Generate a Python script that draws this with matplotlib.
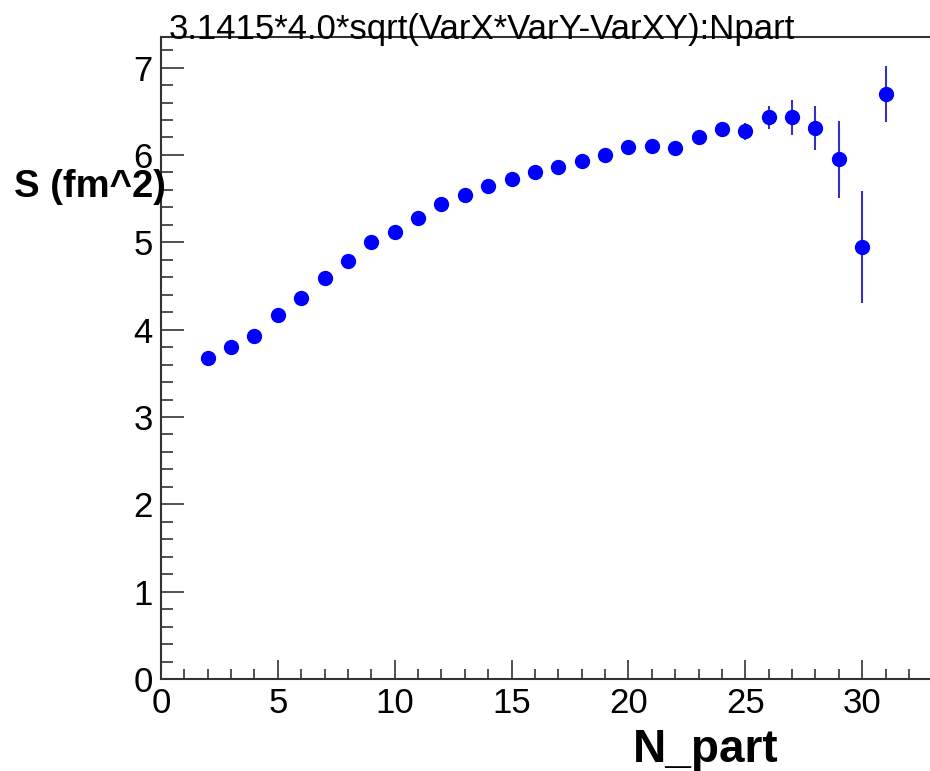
import matplotlib.pyplot as plt
from matplotlib.ticker import MultipleLocator

# Data
npart = [2, 3, 4, 5, 6, 7, 8, 9, 10, 11, 12, 13, 14, 15, 16,
         17, 18, 19, 20, 21, 22, 23, 24, 25, 26, 27, 28, 29, 30, 31]
area = [3.68, 3.80, 3.93, 4.17, 4.36, 4.59, 4.79, 5.00, 5.12, 5.28,
        5.44, 5.54, 5.65, 5.73, 5.80, 5.86, 5.93, 6.00, 6.09, 6.10,
        6.08, 6.20, 6.30, 6.27, 6.43, 6.43, 6.31, 5.95, 4.95, 6.70]
area_err = [0.01, 0.01, 0.01, 0.01, 0.01, 0.01, 0.01, 0.02, 0.02, 0.02,
            0.02, 0.02, 0.02, 0.03, 0.03, 0.03, 0.03, 0.04, 0.04, 0.04,
            0.05, 0.06, 0.08, 0.10, 0.13, 0.20, 0.25, 0.44, 0.64, 0.32]

plt.rcParams['font.family'] = ['Liberation Sans', 'DejaVu Sans']

fig = plt.figure(figsize=(9.3, 7.71), dpi=100)
ax = fig.add_axes([0.1731, 0.1193, 0.8269, 0.8327])

ax.errorbar(npart, area, yerr=area_err, fmt='o', color='#0000ff', ecolor='#3232c8',
            elinewidth=1.5, markersize=10, capsize=0)

ax.set_xlim(0, 32.9)
ax.set_ylim(0, 7.35)

ax.xaxis.set_major_locator(MultipleLocator(5))
ax.xaxis.set_minor_locator(MultipleLocator(1))
ax.yaxis.set_major_locator(MultipleLocator(1))
ax.yaxis.set_minor_locator(MultipleLocator(0.2))
ax.tick_params(axis='both', which='both', direction='in', colors='#333333',
               labelcolor='black', labelsize=25, width=1.2)
ax.tick_params(axis='x', which='major', length=14, pad=6)
ax.tick_params(axis='x', which='minor', length=7)
ax.tick_params(axis='y', which='major', length=16.5, pad=6)
ax.tick_params(axis='y', which='minor', length=8.5)

for side in ['left', 'bottom', 'top']:
    ax.spines[side].set_color('#333333')
    ax.spines[side].set_linewidth(1.5)
ax.spines['right'].set_visible(False)

fig.text(0.181, 0.962, '3.1415*4.0*sqrt(VarX*VarY-VarXY):Npart', fontsize=25,
         ha='left', va='center')
fig.text(0.178, 0.758, 'S (fm^2)', fontsize=27.5, fontweight='bold', ha='right', va='center')
fig.text(0.837, 0.027, 'N_part', fontsize=33, fontweight='bold', ha='right', va='center')

plt.savefig('out.png', dpi=100)
